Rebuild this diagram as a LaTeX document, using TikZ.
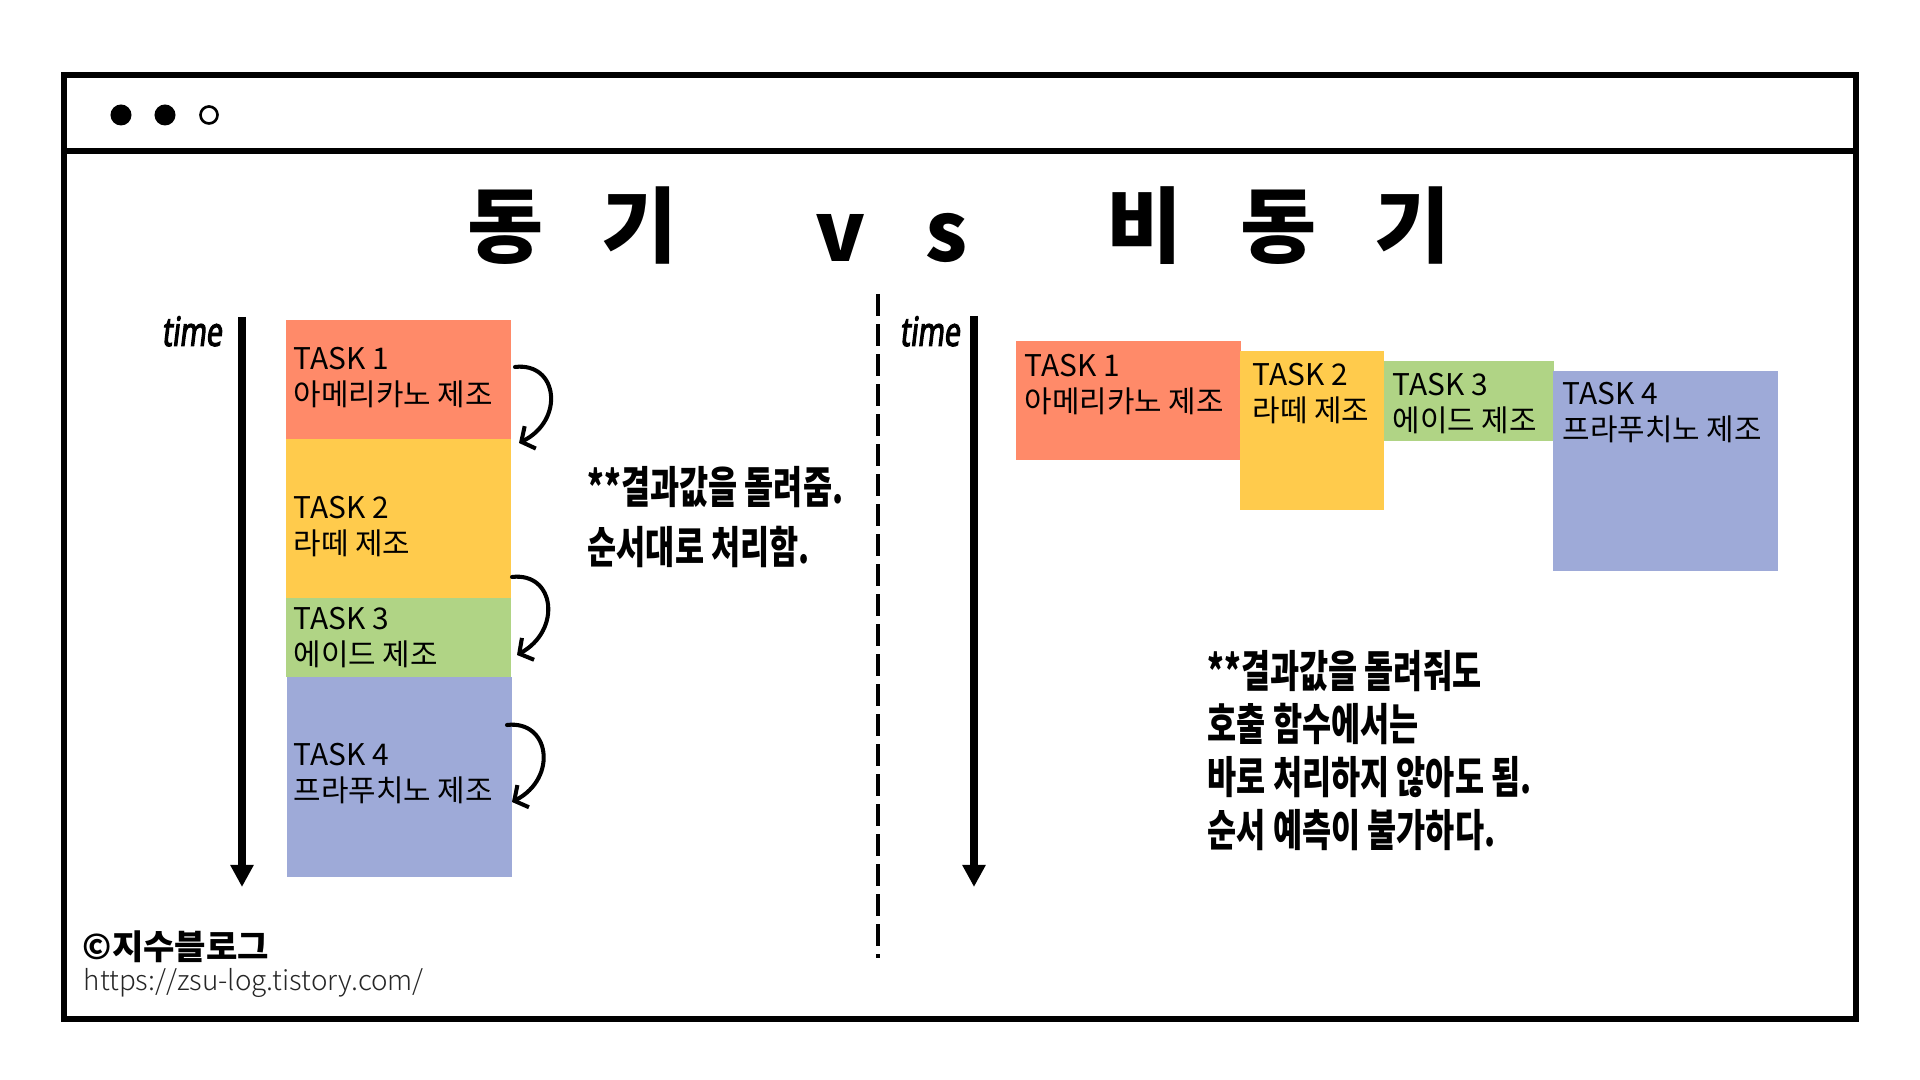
\documentclass[tikz,border=0pt]{standalone}
\usepackage{fontspec}
\usetikzlibrary{arrows.meta,calc}
\setmainfont{Noto Sans CJK KR}
\IfFontExistsTF{Noto Sans CJK KR Black}
  {\newfontfamily\titlefont{Noto Sans CJK KR Black}}
  {\newfontfamily\titlefont{Noto Sans CJK KR}[FakeBold=3]}
\IfFontExistsTF{Noto Sans CJK KR Light}
  {\newfontfamily\urlfont{Noto Sans CJK KR Light}}
  {\newfontfamily\urlfont{Noto Sans CJK KR}}
\newfontfamily\handfont{Noto Sans CJK KR}[FakeStretch=0.72]
\newfontfamily\timefont{Noto Sans}[FakeStretch=0.7,FakeBold=2.5,FakeSlant=0.12]
\definecolor{salmon}{HTML}{FF8A69}
\definecolor{mango}{HTML}{FFCB4C}
\definecolor{leaf}{HTML}{B0D485}
\definecolor{lilac}{HTML}{9EAAD8}
\begin{document}
\begin{tikzpicture}[x=0.01cm,y=-0.01cm,
  frameline/.style={draw=black,line width=1.45pt},
  dotfill/.style={circle,fill=black,minimum size=0.21cm,inner sep=0},
  dotopen/.style={circle,draw=black,line width=0.75pt,minimum size=0.17cm,inner sep=0},
  taskbox/.style={rectangle,inner sep=0,anchor=north west,draw=none},
  tasktxt/.style={anchor=north west,inner sep=0,align=left,font=\fontsize{8.5}{10}\selectfont},
  titlech/.style={anchor=base,inner sep=0,font=\titlefont\fontsize{23.5}{26}\selectfont},
  timeline/.style={line width=2.3pt,-{Triangle[length=0.22cm,width=0.22cm]}},
  hook/.style={line width=1.15pt,line cap=round,-{Straight Barb[length=0.1cm,width=0.25cm]}},
  timelbl/.style={anchor=base west,inner sep=0,font=\timefont\fontsize{11.5}{13}\selectfont},
  note/.style={anchor=north west,inner sep=0,align=left,font=\handfont\bfseries\fontsize{12.5}{15}\selectfont},
  divider/.style={line width=1pt,dash pattern=on 0.22cm off 0.08cm}
]
\useasboundingbox (0,0) rectangle (1920,1080);
\fill[white] (0,0) rectangle (1920,1080);

% window frame
\draw[frameline] (64,75) rectangle (1856,1019);
\draw[frameline] (64,151) -- (1856,151);
\node[dotfill] (d1) at (121,115) {};
\node[dotfill] (d2) at (165,115) {};
\node[dotopen] (d3) at (209,115) {};

% title
\node[titlech] (t1) at (506,257) {동};
\node[titlech] (t2) at (640,257) {기};
\node[titlech] (t3) at (841,262) {v};
\node[titlech] (t4) at (947,262) {s};
\node[titlech] (t5) at (1145,257) {비};
\node[titlech] (t6) at (1279,257) {동};
\node[titlech] (t7) at (1413,257) {기};

% divider
\coordinate (dvA) at (878,294);
\coordinate (dvB) at (878,958);
\draw[divider] (dvA) -- (dvB);

% ---------- left: synchronous ----------
\node[timelbl] (timeL) at (161,346) {time};
\coordinate (tlA) at (242,317);
\coordinate (tlB) at (242,887);
\draw[timeline] (tlA) -- (tlB);

\node[taskbox,fill=salmon,minimum width=2.25cm,minimum height=1.19cm] (L1) at (285,319) {};
\node[taskbox,fill=mango,minimum width=2.25cm,minimum height=1.59cm] (L2) at (285,438) {};
\node[taskbox,fill=leaf,minimum width=2.25cm,minimum height=0.79cm] (L3) at (285,597) {};
\node[taskbox,fill=lilac,minimum width=2.25cm,minimum height=2.00cm] (L4) at (286,676) {};

\node[tasktxt] (L1t) at (293,347) {TASK 1\\아메리카노 제조};
\node[tasktxt] (L2t) at (293,496) {TASK 2\\라떼 제조};
\node[tasktxt] (L3t) at (293,607) {TASK 3\\에이드 제조};
\node[tasktxt] (L4t) at (293,743) {TASK 4\\프라푸치노 제조};

\coordinate (h1a) at (515,367);
\coordinate (h1b) at (519,443);
\coordinate (h2a) at (512,577);
\coordinate (h2b) at (517,655);
\coordinate (h3a) at (507,725);
\coordinate (h3b) at (512,802);
\draw[hook] (h1a) .. controls (558,362) and (565,420) .. (h1b);
\draw[hook] (h2a) .. controls (555,572) and (562,630) .. (h2b);
\draw[hook] (h3a) .. controls (550,720) and (558,778) .. (h3b);

\node[note] (noteL) at (587,466) {**결과값을 돌려줌.\\[2pt]순서대로 처리함.};

% ---------- right: asynchronous ----------
\node[timelbl] (timeR) at (899,346) {time};
\coordinate (trA) at (974,316);
\coordinate (trB) at (974,887);
\draw[timeline] (trA) -- (trB);

\node[taskbox,fill=salmon,minimum width=2.25cm,minimum height=1.19cm] (R1) at (1015,340) {};
\node[taskbox,fill=mango,minimum width=1.44cm,minimum height=1.59cm] (R2) at (1239,350) {};
\node[taskbox,fill=leaf,minimum width=1.70cm,minimum height=0.80cm] (R3) at (1383,360) {};
\node[taskbox,fill=lilac,minimum width=2.25cm,minimum height=2.00cm] (R4) at (1552,370) {};

\node[tasktxt] (R1t) at (1024,354) {TASK 1\\아메리카노 제조};
\node[tasktxt] (R2t) at (1252,363) {TASK 2\\라떼 제조};
\node[tasktxt] (R3t) at (1392,373) {TASK 3\\에이드 제조};
\node[tasktxt] (R4t) at (1562,382) {TASK 4\\프라푸치노 제조};

\node[note] (noteR) at (1207,650) {**결과값을 돌려줘도\\호출 함수에서는\\바로 처리하지 않아도 됨.\\순서 예측이 불가하다.};

% footer
\node[anchor=north west,inner sep=0,font=\bfseries\fontsize{9.7}{10}\selectfont] (brand) at (82,930) {©지수블로그};
\node[anchor=north west,inner sep=0,font=\urlfont\fontsize{7.9}{9}\selectfont,text=black!85] (url) at (83,968) {https://zsu-log.tistory.com/};
\end{tikzpicture}
\end{document}
